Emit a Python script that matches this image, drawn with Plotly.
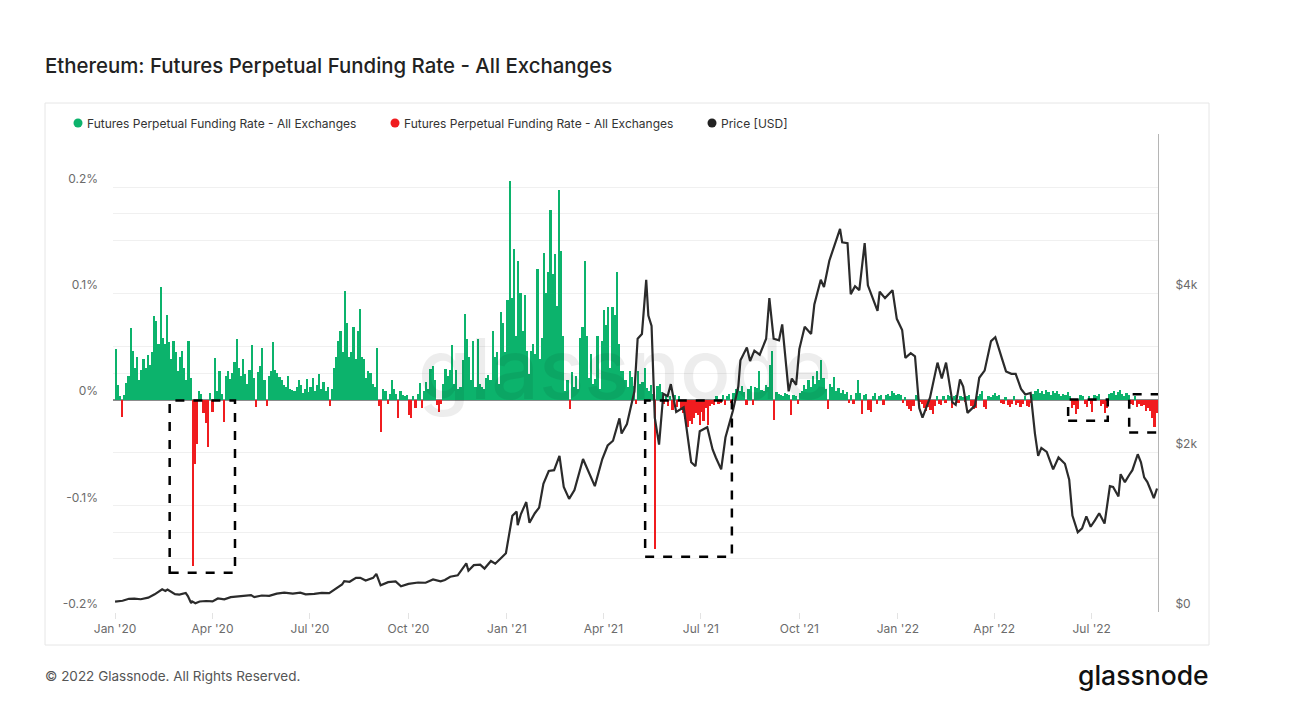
import pandas as pd
import plotly.graph_objects as go

# ---------------- DATA ----------------
# Funding rate, 2-day buckets, in thousandths of a percent (48 -> 0.048 %)
fr_2020_q1 = [48, 14, 3, -16, 4, 16, 22, 67, 46, 30, 40, 18, 28, 38, 30, 42, 33, 45, 79, 74,
              52, 106, 58, 52, 80, 54, 38, 55, 45, 27, 40, 46, 30, 18, 55, 20, -157, -61, -42, 8,
              5, -13, -22, -45, 6, -12]
fr_2020_q2 = [-12, 39, 8, 27, 5, -21, 22, 27, 19, 25, 35, 57, 30, 22, 38, 24, 15, 28, 51, 20,
              -7, 26, 32, 49, 18, -6, 22, 27, 54, 28, 25, 21, 18, 14, 12, 22, 10, 9, 8, 12,
              18, 14, 6, 10, 19, 7]
fr_2020_q3 = [12, 20, 8, 14, 24, 10, 17, 8, 12, -6, 10, 30, 40, 55, 65, 45, 102, 72, 40, 45,
              68, 38, 65, 85, 40, 38, 20, 27, 25, 15, 12, 49, -6, -31, 10, 8, -4, 5, 18, 10,
              5, -17, 8, 4, 3, 4]
fr_2020_q4 = [-15, -17, 3, -8, 5, 16, -8, 8, 17, 10, 29, 32, 18, -5, -12, -4, 15, 29, 22, 28,
              51, 15, 28, 10, 12, 37, 81, 57, 40, 18, 55, 12, 57, 15, 12, 10, 20, 23, 18, 65,
              40, 45, 15, 82, 72, 45]
fr_2021_q1 = [94, 206, 96, 142, 60, 130, 100, 65, 98, 46, 24, 46, 52, 43, 123, 38, 58, 138, 100, 120,
              178, 118, 137, 88, 197, 140, 60, 8, 18, -9, 26, 12, 22, 10, 58, 68, 130, 60, 20, 43,
              15, 19, 60, 10, 55]
fr_2021_q2 = [84, 70, 87, 30, 87, 80, 120, 52, 27, 27, 18, 12, 27, 21, 13, -4, 27, 15, 17, 30,
              11, 8, 14, 5, -141, 13, 15, 7, -4, 4, -6, 3, -10, 4, -7, 3, -10, -13, -18, -26,
              -20, -23, -17, -13, -15, -24]
fr_2021_q3 = [-12, -20, -8, -24, -6, -4, -5, 3, -4, -3, 4, -5, 3, 5, -3, 6, 10, 12, 8, 13,
              7, -5, 10, 13, -5, 12, 11, 27, 9, 8, 14, 12, 33, 46, -19, 7, 5, 4, 3, 6,
              5, 4, -15, 4, 3, -4]
fr_2021_q4 = [6, 8, 14, 10, 18, 12, 22, 15, 27, 18, 37, 20, 10, -9, 15, 12, 21, 8, 11, 6,
              9, 5, 7, -3, 4, -4, 6, 18, 6, -14, 4, 5, -10, -12, 3, 6, -4, 3, 4, -5,
              4, 5, 3, 8, 6, 4]
fr_2022_q1 = [5, 4, -3, 2, -6, -9, -11, -6, 4, 3, -2, -4, -8, -11, -7, -10, -14, -6, 3, -4,
              -5, 3, -3, 4, 3, -8, 3, 4, -3, 3, 2, -2, 3, 4, -6, -9, -8, 3, 5, 8,
              -7, -9, 3, 2, 4]
fr_2022_q2 = [6, 3, 4, -3, -4, 2, -5, -7, -4, 3, -5, -3, -7, -4, 3, -6, -7, -3, 5, 8,
              10, 6, 8, 5, 9, 7, 4, 8, 6, 8, 5, 3, 5, 4, 7, 3, -8, -5, -14, -9,
              4, 3, -4, -7, 3, -4]
fr_2022_q3 = [-12, 4, 3, 5, -6, -4, -13, -8, 5, 6, 8, 4, 7, 9, 5, 3, 6, 4, -4, -5,
              3, -7, -4, -6, -5, -11, -8, -11, -17, -26, -13]

fr_segments = [("2020-01-01", fr_2020_q1), ("2020-04-01", fr_2020_q2), ("2020-07-01", fr_2020_q3),
               ("2020-10-01", fr_2020_q4), ("2021-01-01", fr_2021_q1), ("2021-04-01", fr_2021_q2),
               ("2021-07-01", fr_2021_q3), ("2021-10-01", fr_2021_q4), ("2022-01-01", fr_2022_q1),
               ("2022-04-01", fr_2022_q2), ("2022-07-01", fr_2022_q3)]

# ETH price [USD]
price_2020_dates = ["2020-01-01", "2020-01-08", "2020-01-14", "2020-01-19", "2020-01-25", "2020-02-01",
                    "2020-02-07", "2020-02-14", "2020-02-17", "2020-02-19", "2020-02-26", "2020-03-01",
                    "2020-03-07", "2020-03-09", "2020-03-12", "2020-03-13", "2020-03-16", "2020-03-20",
                    "2020-03-26", "2020-04-01", "2020-04-06", "2020-04-12", "2020-04-18", "2020-04-25",
                    "2020-04-30", "2020-05-07", "2020-05-10", "2020-05-17", "2020-05-24", "2020-05-31",
                    "2020-06-07", "2020-06-15", "2020-06-22", "2020-06-27", "2020-07-05", "2020-07-12",
                    "2020-07-19", "2020-07-24", "2020-07-31", "2020-08-02", "2020-08-07", "2020-08-13",
                    "2020-08-17", "2020-08-22", "2020-08-29", "2020-09-01", "2020-09-05", "2020-09-12",
                    "2020-09-19", "2020-09-24", "2020-10-01", "2020-10-10", "2020-10-17", "2020-10-24",
                    "2020-10-31", "2020-11-04", "2020-11-09", "2020-11-16", "2020-11-21", "2020-11-24",
                    "2020-11-26", "2020-12-01", "2020-12-07", "2020-12-11", "2020-12-17", "2020-12-21",
                    "2020-12-27", "2020-12-31"]
price_2020_usd = [130, 141, 166, 168, 160, 180, 222, 285, 265, 282, 225, 218, 238, 200, 112, 133, 110, 132,
                  138, 133, 170, 158, 186, 194, 206, 212, 187, 207, 202, 231, 244, 230, 242, 221, 228, 240,
                  236, 279, 345, 387, 379, 428, 430, 395, 428, 478, 335, 375, 385, 322, 353, 370, 367, 409,
                  386, 402, 443, 460, 548, 610, 518, 588, 594, 545, 640, 606, 685, 737]
price_2021_dates = ["2021-01-03", "2021-01-06", "2021-01-10", "2021-01-11", "2021-01-14", "2021-01-19",
                    "2021-01-22", "2021-01-27", "2021-01-31", "2021-02-04", "2021-02-09", "2021-02-14",
                    "2021-02-19", "2021-02-23", "2021-02-28", "2021-03-05", "2021-03-13", "2021-03-17",
                    "2021-03-24", "2021-03-31", "2021-04-05", "2021-04-10", "2021-04-16", "2021-04-18",
                    "2021-04-23", "2021-04-30", "2021-05-03", "2021-05-07", "2021-05-11", "2021-05-13",
                    "2021-05-16", "2021-05-19", "2021-05-23", "2021-05-27", "2021-05-31", "2021-06-03",
                    "2021-06-08", "2021-06-15", "2021-06-22", "2021-06-26", "2021-06-30", "2021-07-07",
                    "2021-07-12", "2021-07-15", "2021-07-20", "2021-07-24", "2021-07-31", "2021-08-05",
                    "2021-08-07", "2021-08-13", "2021-08-16", "2021-08-20", "2021-08-25", "2021-08-31",
                    "2021-09-03", "2021-09-07", "2021-09-12", "2021-09-15", "2021-09-21", "2021-09-24",
                    "2021-09-28", "2021-10-01", "2021-10-06", "2021-10-12", "2021-10-15", "2021-10-21",
                    "2021-10-24", "2021-10-29", "2021-11-03", "2021-11-08", "2021-11-10", "2021-11-15",
                    "2021-11-18", "2021-11-22", "2021-11-26", "2021-12-01", "2021-12-04", "2021-12-10",
                    "2021-12-13", "2021-12-15", "2021-12-20", "2021-12-27", "2021-12-31"]
price_2021_usd = [975, 1208, 1260, 1090, 1230, 1380, 1120, 1240, 1310, 1610, 1770, 1780, 1960, 1570, 1420,
                  1530, 1920, 1800, 1580, 1920, 2090, 2150, 2430, 2240, 2360, 2770, 3430, 3490, 4170, 3720,
                  3590, 2440, 2100, 2740, 2710, 2860, 2510, 2570, 1880, 1830, 2270, 2320, 2040, 1940, 1790,
                  2190, 2530, 2830, 3160, 3320, 3150, 3280, 3230, 3430, 3940, 3430, 3410, 3610, 2770, 2930,
                  2850, 3300, 3580, 3490, 3860, 4170, 4080, 4410, 4600, 4810, 4640, 4630, 3990, 4090, 4040,
                  4630, 4100, 3900, 3780, 4020, 3940, 4040, 3680]
price_2022_dates = ["2022-01-05", "2022-01-08", "2022-01-13", "2022-01-17", "2022-01-21", "2022-01-24",
                    "2022-01-31", "2022-02-07", "2022-02-11", "2022-02-15", "2022-02-21", "2022-02-24",
                    "2022-02-28", "2022-03-03", "2022-03-07", "2022-03-14", "2022-03-18", "2022-03-23",
                    "2022-03-29", "2022-04-02", "2022-04-08", "2022-04-12", "2022-04-17", "2022-04-21",
                    "2022-04-26", "2022-04-30", "2022-05-05", "2022-05-09", "2022-05-12", "2022-05-15",
                    "2022-05-20", "2022-05-26", "2022-05-31", "2022-06-06", "2022-06-10", "2022-06-13",
                    "2022-06-18", "2022-06-22", "2022-06-26", "2022-06-30", "2022-07-04", "2022-07-08",
                    "2022-07-13", "2022-07-16", "2022-07-18", "2022-07-21", "2022-07-26", "2022-07-28",
                    "2022-08-01", "2022-08-05", "2022-08-08", "2022-08-13", "2022-08-16", "2022-08-19",
                    "2022-08-22", "2022-08-26", "2022-08-28", "2022-08-31"]
price_2022_usd = [3540, 3190, 3250, 3210, 2560, 2440, 2690, 3130, 2930, 3130, 2630, 2600, 2920, 2830, 2500,
                  2590, 2940, 3030, 3400, 3450, 3190, 3020, 2990, 2990, 2800, 2730, 2750, 2240, 1960, 2060,
                  2010, 1790, 1940, 1860, 1660, 1210, 1000, 1050, 1200, 1070, 1150, 1240, 1110, 1360, 1580,
                  1570, 1450, 1730, 1630, 1720, 1780, 1980, 1880, 1690, 1630, 1500, 1430, 1550]

x_tick_dates = ["2020-01-01", "2020-04-01", "2020-07-01", "2020-10-01", "2021-01-01", "2021-04-01",
                "2021-07-01", "2021-10-01", "2022-01-01", "2022-04-01", "2022-07-01"]
x_tick_labels = ["Jan '20", "Apr '20", "Jul '20", "Oct '20", "Jan '21", "Apr '21",
                 "Jul '21", "Oct '21", "Jan '22", "Apr '22", "Jul '22"]
y_tick_vals = [-0.2, -0.15, -0.1, -0.05, 0, 0.05, 0.1, 0.15, 0.2, 0.25]
y_tick_labels = ["-0.2%", "", "-0.1%", "", "0%", "", "0.1%", "", "0.2%", ""]
y2_tick_vals = [0, 1000, 2000, 3000, 4000, 5000, 6000]
y2_tick_labels = ["$0", "", "$2k", "", "$4k", "", ""]

# highlighted periods (start, end, low, high) in funding-rate units (%)
highlight_boxes = [("2020-02-21", "2020-04-22", -0.163, -0.001),
                   ("2021-05-10", "2021-07-30", -0.148, -0.001),
                   ("2022-06-09", "2022-07-16", -0.020, 0.000),
                   ("2022-08-05", "2022-09-04", -0.031, 0.005)]

# ---------------- BUILD ----------------
fr_dates, fr_vals = [], []
for start, vals in fr_segments:
    d = pd.date_range(start, periods=len(vals), freq="2D")
    fr_dates.extend(list(d))
    fr_vals.extend([v / 1000 for v in vals])

pos = [v if v >= 0 else None for v in fr_vals]
neg = [v if v < 0 else None for v in fr_vals]

price_dates = pd.to_datetime(price_2020_dates + price_2021_dates + price_2022_dates)
price_vals = price_2020_usd + price_2021_usd + price_2022_usd

GREEN = "#0cb36c"
RED = "#f01c1f"
DARK = "#2b2b2b"
FONT = "Inter, Roboto, 'Noto Sans', sans-serif"
DAY = 86400000

L, R, T, B = 113, 1158, 134, 612
W, H = 1295, 727


def px(x):
    return (x - L) / (R - L)


def py(y):
    return (B - y) / (B - T)


fig = go.Figure()
fig.add_trace(go.Bar(x=fr_dates, y=pos, width=1.6 * DAY, offset=0, marker=dict(color=GREEN, line_width=0),
                     name="Futures Perpetual Funding Rate - All Exchanges", showlegend=False, yaxis="y"))
fig.add_trace(go.Bar(x=fr_dates, y=neg, width=1.6 * DAY, offset=0, marker=dict(color=RED, line_width=0),
                     name="Futures Perpetual Funding Rate - All Exchanges", showlegend=False, yaxis="y"))
fig.add_trace(go.Scatter(x=price_dates, y=price_vals, mode="lines", line=dict(color=DARK, width=2.2),
                         name="Price [USD]", showlegend=False, yaxis="y2"))

shapes = []
for (x0, x1, y0, y1) in highlight_boxes:
    shapes.append(dict(type="rect", xref="x", yref="y", x0=x0, x1=x1, y0=y0, y1=y1,
                       line=dict(color="#000000", width=2.5, dash="dash"), fillcolor="rgba(0,0,0,0)"))
# outer card border
shapes.append(dict(type="rect", xref="paper", yref="paper", x0=px(45), x1=px(1209), y0=py(645), y1=py(103),
                   line=dict(color="#e6e6e6", width=1), layer="below"))
# legend dots
legend_items = [(78, GREEN, "Futures Perpetual Funding Rate - All Exchanges"),
                (395, RED, "Futures Perpetual Funding Rate - All Exchanges"),
                (712, "#222222", "Price [USD]")]
annotations = []
for cx, col, txt in legend_items:
    shapes.append(dict(type="circle", xref="paper", yref="paper", x0=px(cx - 4.5), x1=px(cx + 4.5),
                       y0=py(123 + 4.5), y1=py(123 - 4.5), fillcolor=col, line=dict(width=0)))
    annotations.append(dict(xref="paper", yref="paper", x=px(cx + 7), y=py(123), xanchor="left", yanchor="middle",
                            text=txt, showarrow=False, font=dict(family=FONT, size=12, color="#333333")))

annotations += [
    dict(xref="paper", yref="paper", x=px(43), y=py(66), xanchor="left", yanchor="middle", showarrow=False,
         text="Ethereum: Futures Perpetual Funding Rate - All Exchanges",
         font=dict(family=FONT, size=20.4, color="#222222", weight=500)),
    dict(xref="paper", yref="paper", x=px(43), y=py(676), xanchor="left", yanchor="middle", showarrow=False,
         text="© 2022 Glassnode. All Rights Reserved.", font=dict(family=FONT, size=13.5, color="#555555")),
    dict(xref="paper", yref="paper", x=px(1211), y=py(675), xanchor="right", yanchor="middle", showarrow=False,
         text="glassnode", font=dict(family=FONT, size=26.5, color="#111111", weight=500)),
    dict(xref="paper", yref="paper", x=px(625), y=py(368), xanchor="center", yanchor="middle", showarrow=False,
         text="glassnode", font=dict(family=FONT, size=84, color="rgba(0,0,0,0.07)", weight=500)),
]

fig.update_layout(
    width=W, height=H, autosize=False,
    margin=dict(l=L, r=W - R, t=T, b=H - B, pad=0),
    paper_bgcolor="white", plot_bgcolor="white",
    barmode="overlay", bargap=0,
    showlegend=False,
    font=dict(family=FONT, size=12, color="#6b6b6b"),
    xaxis=dict(type="date", range=["2019-12-30 02:00", "2022-08-31 22:00"],
               tickvals=x_tick_dates, ticktext=x_tick_labels, showgrid=False,
               ticks="outside", ticklen=6, tickcolor="#e3e3e3", tickwidth=1,
               showline=False, zeroline=False, tickfont=dict(size=12, color="#6b6b6b")),
    yaxis=dict(range=[-0.2, 0.25], tickvals=y_tick_vals, ticktext=y_tick_labels,
               showgrid=True, gridcolor="#f0f0f0", gridwidth=1,
               zeroline=True, zerolinecolor="#8c8c8c", zerolinewidth=1.6,
               ticklabelposition="outside top", ticks="", ticklabelstandoff=14,
               tickfont=dict(size=12, color="#6b6b6b"), showline=False),
    yaxis2=dict(range=[0, 6000], tickvals=y2_tick_vals, ticktext=y2_tick_labels, overlaying="y", side="right",
                showgrid=True, gridcolor="#f0f0f0", gridwidth=1, zeroline=False,
                ticklabelposition="outside top", ticks="", ticklabelstandoff=14,
                showline=True, linecolor="#b5b5b5", linewidth=1,
                tickfont=dict(size=12, color="#6b6b6b")),
    shapes=shapes,
    annotations=annotations,
)

fig.write_html("out.html", config={"displayModeBar": False},
               post_script="document.body.style.margin='0';document.body.style.overflow='hidden';")
